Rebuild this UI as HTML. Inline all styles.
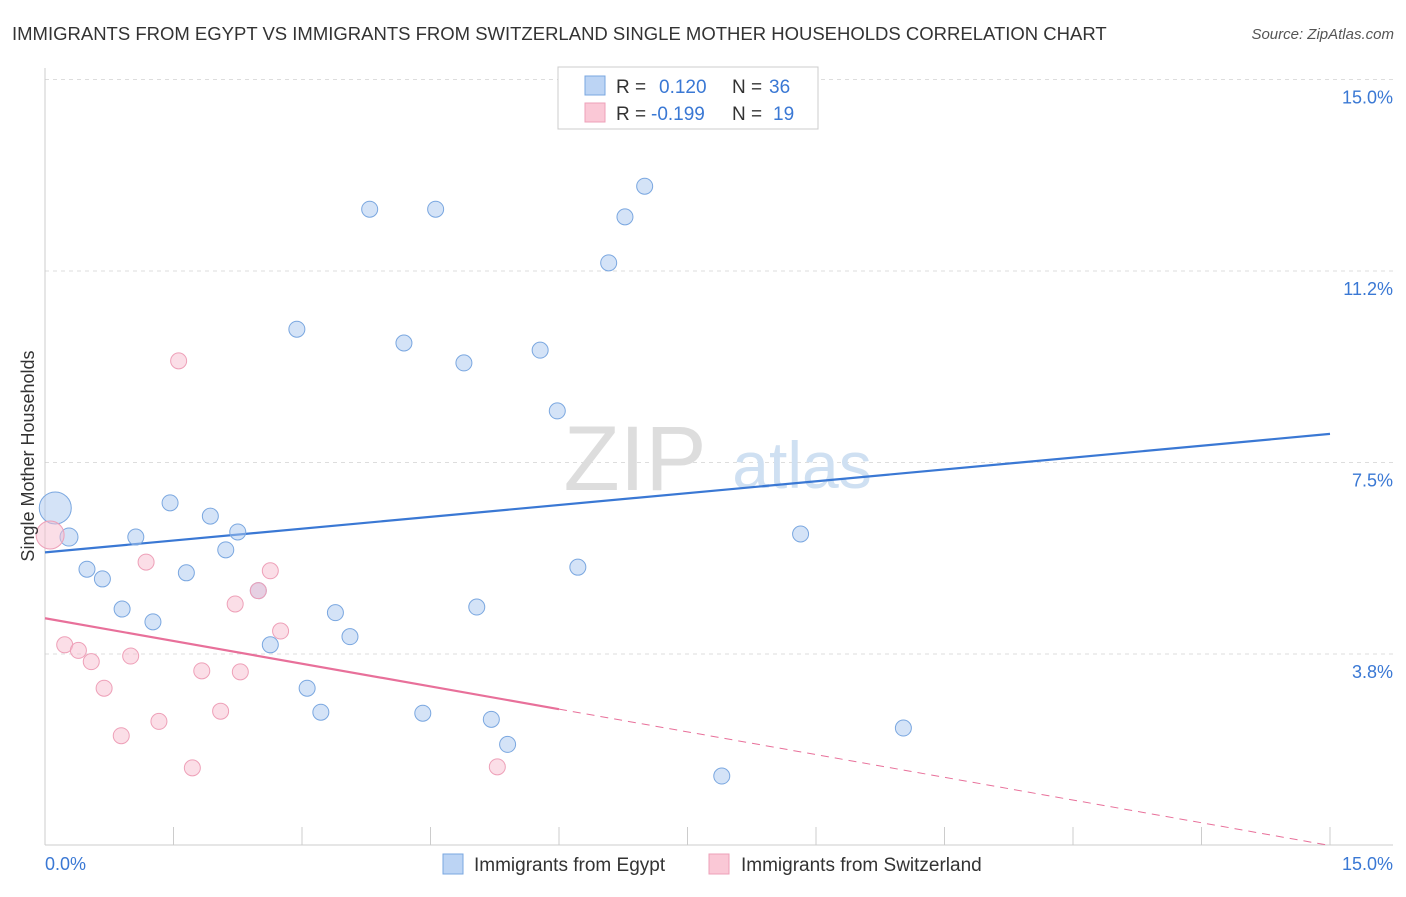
<!DOCTYPE html>
<html><head><meta charset="utf-8">
<style>
body{margin:0;background:#fff;font-family:"Liberation Sans",sans-serif;}
svg text{font-family:"Liberation Sans",sans-serif;}
</style></head>
<body>
<svg width="1406" height="892" viewBox="0 0 1406 892">
<text x="12" y="40" font-size="18.5" fill="#333">IMMIGRANTS FROM EGYPT VS IMMIGRANTS FROM SWITZERLAND SINGLE MOTHER HOUSEHOLDS CORRELATION CHART</text>
<text x="1394" y="39" font-size="15" fill="#555" font-style="italic" text-anchor="end">Source: ZipAtlas.com</text>
<g id="grid"></g>
<g id="axes"></g>
<g>
<text x="635" y="490" font-size="92" font-family="Liberation Serif" fill="#ddd" text-anchor="middle">ZIP</text>
<text x="802" y="488" font-size="66" fill="#cfe0f2" text-anchor="middle">atlas</text>
</g>
<g id="lines"></g>
<g id="points"></g>
<text x="28" y="456" font-size="18" fill="#333" text-anchor="middle" transform="rotate(-90 28 456)" dy="6">Single Mother Households</text>
<g>
<rect x="558" y="67" width="260" height="62" fill="#fff" stroke="#ccc"/>
<rect x="585" y="76" width="20" height="19" fill="#bcd4f4" stroke="#7aa7e0"/>
<rect x="585" y="103" width="20" height="19" fill="#fac8d6" stroke="#eea0b8"/>
<text x="616" y="93" font-size="19" fill="#333">R = <tspan fill="#3a78d4" x="659">0.120</tspan><tspan x="732" fill="#333">N = </tspan><tspan fill="#3a78d4" x="769">36</tspan></text>
<text x="616" y="120" font-size="19" fill="#333">R = <tspan fill="#3a78d4" x="651">-0.199</tspan><tspan x="732" fill="#333">N = </tspan><tspan fill="#3a78d4" x="773">19</tspan></text>
</g>
<g>
<rect x="443" y="854" width="20" height="20" fill="#bcd4f4" stroke="#7aa7e0"/>
<text x="474" y="871" font-size="19" fill="#333">Immigrants from Egypt</text>
<rect x="709" y="854" width="20" height="20" fill="#fac8d6" stroke="#eea0b8"/>
<text x="741" y="871" font-size="19" fill="#333">Immigrants from Switzerland</text>
</g>
</svg>
<script>
const yTicks=[3.75,7.5,11.25,15];
const yTickLabels=["3.8%","7.5%","11.2%","15.0%"];
const egyptX=[0.12,0.28,0.49,0.67,0.90,1.06,1.26,1.46,1.65,1.93,2.11,2.25,2.49,2.63,2.94,3.06,3.22,3.39,3.56,3.79,4.19,4.41,4.56,4.89,5.04,5.21,5.40,5.78,5.98,6.22,6.58,6.77,7.00,7.90,8.82,10.02];
const egyptY=[6.61,6.04,5.41,5.22,4.63,6.04,4.38,6.71,5.34,6.45,5.79,6.14,4.99,3.93,10.11,3.08,2.61,4.56,4.09,12.46,9.84,2.59,12.46,9.45,4.67,2.47,1.98,9.70,8.51,5.45,11.41,12.31,12.91,1.36,6.10,2.30];
const egyptR=[16,9,8,8,8,8,8,8,8,8,8,8,8,8,8,8,8,8,8,8,8,8,8,8,8,8,8,8,8,8,8,8,8,8,8,8];
const swissX=[0.06,0.23,0.39,0.54,0.69,0.89,1.00,1.18,1.33,1.56,1.72,1.83,2.05,2.22,2.28,2.49,2.63,2.75,5.28];
const swissY=[6.08,3.93,3.82,3.60,3.08,2.15,3.71,5.55,2.43,9.49,1.52,3.42,2.63,4.73,3.40,4.99,5.38,4.20,1.54];
const swissR=[14,8,8,8,8,8,8,8,8,8,8,8,8,8,8,8,8,8,8];
const egyptTrend=[5.74,8.06];
const swissTrend=[4.45,0.0];
const swissSolidEnd=6.0;
const NS="http://www.w3.org/2000/svg";
const X=v=>45+v/15*1285, Y=v=>845.5-v/15*766;
function mk(t,a,p){const e=document.createElementNS(NS,t);for(const k in a)e.setAttribute(k,a[k]);p.appendChild(e);return e;}
const grid=document.getElementById('grid'),axes=document.getElementById('axes');
yTicks.forEach((t,i)=>{
 const g=mk('line',{x1:45,x2:1393,y1:Y(t),y2:Y(t),stroke:'#ddd','stroke-dasharray':'4,4'},grid);
 
 
 const l=mk('text',{x:1393,y:Y(t)+24,'font-size':18,fill:'#3a78d4','text-anchor':'end'},axes);
 l.textContent=yTickLabels[i];
 
 
});
mk('line',{x1:45,x2:45,y1:68,y2:845,stroke:'#ccc'},axes);
mk('line',{x1:45,x2:1393,y1:845,y2:845,stroke:'#ccc'},axes);
for(let i=1;i<=10;i++){
 const tk=mk('line',{x1:X(i*1.5),x2:X(i*1.5),y1:827,y2:845,stroke:'#ccc'},axes);
 
 
}
const x0=mk('text',{x:45,y:870,'font-size':18,fill:'#3a78d4'},axes);x0.textContent='0.0%';


const x1=mk('text',{x:1393,y:870,'font-size':18,fill:'#3a78d4','text-anchor':'end'},axes);x1.textContent='15.0%';


const pts=document.getElementById('points');
egyptX.forEach((v,i)=>{
 const c=mk('circle',{cx:X(v),cy:Y(egyptY[i]),r:egyptR[i],fill:'rgba(170,200,240,0.5)',stroke:'#7aa7e0','stroke-width':1},pts);
 
 
});
swissX.forEach((v,i)=>{
 const c=mk('circle',{cx:X(v),cy:Y(swissY[i]),r:swissR[i],fill:'rgba(248,190,208,0.5)',stroke:'#eea0b8','stroke-width':1},pts);
 
 
});
const ln=document.getElementById('lines');
const bl=mk('line',{x1:X(0),y1:Y(egyptTrend[0]),x2:X(15),y2:Y(egyptTrend[1]),stroke:'#3a78d4','stroke-width':2.2},ln);


const sv=x=>swissTrend[0]+(swissTrend[1]-swissTrend[0])*x/15;
const pl=mk('line',{x1:X(0),y1:Y(sv(0)),x2:X(swissSolidEnd),y2:Y(sv(swissSolidEnd)),stroke:'#e8709a','stroke-width':2.2},ln);


const pd=mk('line',{x1:X(swissSolidEnd),y1:Y(sv(swissSolidEnd)),x2:X(15),y2:Y(sv(15)),stroke:'#e8709a','stroke-width':1,'stroke-dasharray':'8,6'},ln);


</script>
</body></html>
